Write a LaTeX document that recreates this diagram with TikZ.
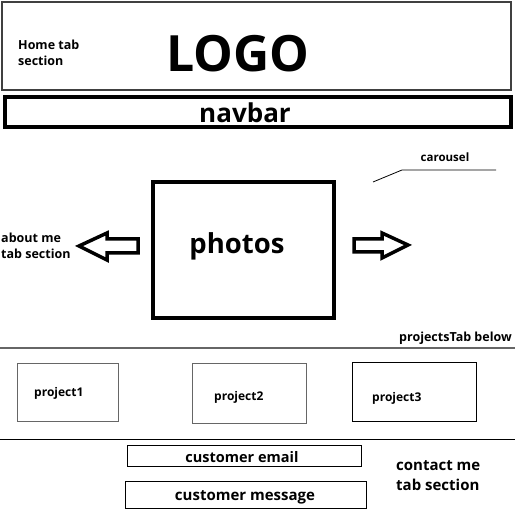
\documentclass[tikz,border=0pt]{standalone}
\usepackage{fontspec}
\setmainfont{Open Sans}
\newcommand{\fsz}[1]{\bfseries\fontsize{#1}{#1}\selectfont}
\begin{document}
\begin{tikzpicture}[x=1pt,y=-1pt,
    frame/.style={draw,line width=2pt},
    bold frame/.style={draw,line width=4pt},
    thin frame/.style={draw,line width=1pt},
    arrowshape/.style={draw,line width=3.5pt,line join=miter},
    lbl/.style={inner sep=0pt,align=left,font=\fsz{12.5},text depth=0pt}]
    \useasboundingbox (0,0) rectangle (515,510);
    % header
    \draw[frame,black!75] (2,2) rectangle (511,90);
    \node[lbl,anchor=west] (home) at (18,53) {Home tab\\[3pt]section};
    \node[inner sep=0pt,font=\fsz{50}] (logo) at (238,54) {LOGO};
    \draw[bold frame] (5,97) rectangle (511,127);
    \node[inner sep=0pt,font=\fsz{26}] (navbar) at (245,113) {navbar};
    % carousel
    \draw[bold frame] (153,182) rectangle (334,318);
    \node[inner sep=0pt,font=\fsz{27.5}] (photos) at (237,246) {photos};
    \draw[arrowshape] (138,239) -- (107,239) -- (107,233) -- (79,246) -- (107,260) -- (107,253) -- (138,253) -- cycle;
    \draw[arrowshape] (354,239) -- (382,239) -- (382,233) -- (408,245) -- (382,258) -- (382,252) -- (354,252) -- cycle;
    \node[lbl,anchor=west] (about) at (1,246) {about me\\[3pt]tab section};
    \node[lbl,font=\fsz{11.5}] (carousel) at (445,157) {carousel};
    \coordinate (c1) at (496,170);
    \coordinate (c2) at (402,170);
    \coordinate (c3) at (373,182);
    \draw[line width=0.8pt] (c1) -- (c2) -- (c3);
    % projects
    \node[lbl,anchor=east,font=\fsz{12.5}] (projtab) at (512,337) {projectsTab below};
    \coordinate (l1) at (0,348);
    \coordinate (r1) at (515,348);
    \draw[line width=1.5pt,black!60] (l1) -- (r1);
    \draw[thin frame,black!60] (17,364) rectangle (118,422);
    \draw[thin frame,black!60] (192,364) rectangle (306,424);
    \draw[thin frame] (352,363) rectangle (476,422);
    \node[lbl,font=\fsz{12},anchor=west] (p1) at (34,392) {project1};
    \node[lbl,font=\fsz{12},anchor=west] (p2) at (214,396) {project2};
    \node[lbl,font=\fsz{12},anchor=west] (p3) at (372,397) {project3};
    % contact
    \coordinate (l2) at (0,440);
    \coordinate (r2) at (515,440);
    \draw[line width=1pt] (l2) -- (r2);
    \draw[thin frame] (127,446) rectangle (361,467);
    \node[lbl,font=\fsz{14.5}] (email) at (242,457) {customer email};
    \draw[thin frame] (125,482) rectangle (366,509);
    \node[lbl,font=\fsz{15}] (message) at (245,496) {customer message};
    \node[lbl,font=\fsz{15},anchor=west] (contact) at (396,476) {contact me\\[5pt]tab section};
\end{tikzpicture}
\end{document}
